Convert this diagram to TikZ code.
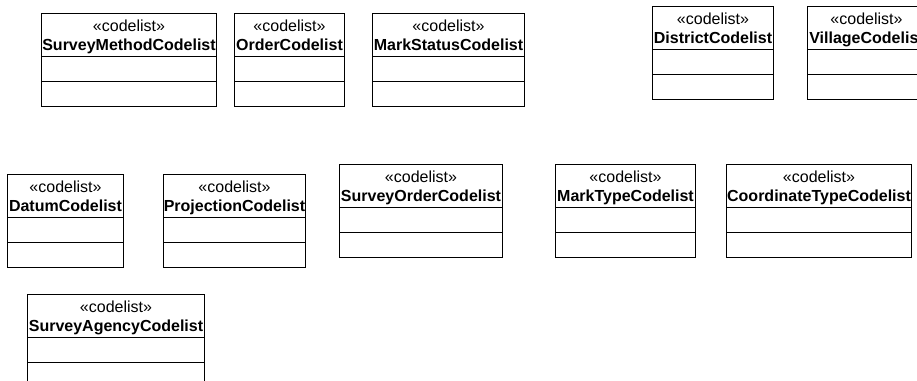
\documentclass[tikz,border=0pt]{standalone}
\usepackage{fontspec}
\setmainfont{Liberation Sans}
\usetikzlibrary{calc}
\begin{document}
\begin{tikzpicture}[x=1pt,y=-1pt,
  classbox/.style={draw=black, line width=1pt, anchor=north west, inner sep=0pt, minimum height=93pt},
  stereo/.style={anchor=base, inner sep=0pt, font=\fontsize{16}{19}\selectfont},
  cname/.style={anchor=base, inner sep=0pt, font=\fontsize{16}{19}\selectfont\bfseries},
  compartment/.style={draw=black, line width=1pt}]
\useasboundingbox (0,0) rectangle (917,380);
\clip (0,0) rectangle (917,380);
% a UML code list: id, left, top, right, class name
\newcommand\codelistbox[5]{%
  \node[classbox, minimum width={#4-#2}] (#1) at (#2,#3) {};
  \path (#1.north) ++(0,18) node[stereo] (#1-st) {«codelist»};
  \path (#1.north) ++(0,37) node[cname] (#1-nm) {#5};
  \draw[compartment] ($(#1.north west)+(0,43)$) -- ($(#1.north east)+(0,43)$);
  \draw[compartment] ($(#1.north west)+(0,68)$) -- ($(#1.north east)+(0,68)$);
}
% top row
\codelistbox{surveymethod}{41}{13}{216}{SurveyMethodCodelist}
\codelistbox{order}{234}{13}{344}{OrderCodelist}
\codelistbox{markstatus}{372}{13}{524}{MarkStatusCodelist}
\codelistbox{district}{652}{6}{773}{DistrictCodelist}
\codelistbox{village}{807}{6}{925}{VillageCodelist}
% middle row
\codelistbox{datum}{7}{174}{123}{DatumCodelist}
\codelistbox{projection}{163}{174}{305}{ProjectionCodelist}
\codelistbox{surveyorder}{339}{164}{502}{SurveyOrderCodelist}
\codelistbox{marktype}{555}{164}{695}{MarkTypeCodelist}
\codelistbox{coordtype}{726}{164}{911}{CoordinateTypeCodelist}
% bottom row
\codelistbox{surveyagency}{27}{294}{204}{SurveyAgencyCodelist}
\end{tikzpicture}
\end{document}
